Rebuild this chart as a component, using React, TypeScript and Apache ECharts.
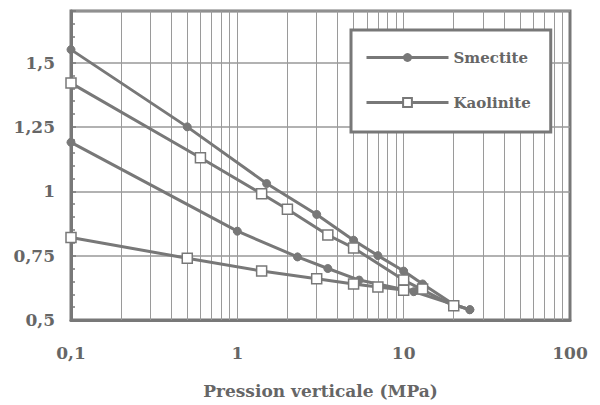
import React, { useEffect, useRef } from "react";
import * as echarts from "echarts";

// Smectite (upper curve)
const smectiteAX = [0.1, 0.5, 1.5, 3, 5, 7, 10, 13, 20, 25];
const smectiteAY = [1.55, 1.25, 1.03, 0.91, 0.81, 0.75, 0.69, 0.64, 0.56, 0.54];
// Kaolinite (upper curve)
const kaoliniteAX = [0.1, 0.6, 1.4, 2, 3.5, 5, 10, 20];
const kaoliniteAY = [1.42, 1.13, 0.99, 0.93, 0.83, 0.78, 0.655, 0.555];
// Smectite (lower curve)
const smectiteBX = [0.1, 1, 2.3, 3.5, 5.4, 11.5, 20, 25];
const smectiteBY = [1.19, 0.845, 0.745, 0.7, 0.655, 0.61, 0.56, 0.54];
// Kaolinite (lower curve)
const kaoliniteBX = [0.1, 0.5, 1.4, 3, 5, 7, 10, 13];
const kaoliniteBY = [0.82, 0.74, 0.69, 0.66, 0.64, 0.628, 0.616, 0.62];

const xGridValues = [
  0.2, 0.3, 0.4, 0.5, 0.6, 0.7, 0.8, 0.9, 1, 2, 3, 4, 5, 6, 7, 8, 9, 10, 20, 30, 40, 50, 60, 70, 80, 90,
];
const legendNames = ["Smectite", "Kaolinite"];
const xTitle = "Pression verticale (MPa)";

const zip = (xs: number[], ys: number[]) => xs.map((x, i) => [x, ys[i]]);

const GRAY = "#787878";
const TEXT = "#666666";
const FONT = "DejaVu Serif";

export default function App() {
  const ref = useRef<HTMLDivElement>(null);
  useEffect(() => {
    if (!ref.current) return;
    const chart = echarts.init(ref.current, undefined, { renderer: "svg" });
    const smectiteStyle = {
      type: "line" as const,
      name: legendNames[0],
      symbol: "circle",
      symbolSize: 8,
      lineStyle: { color: GRAY, width: 3 },
      itemStyle: { color: GRAY, borderColor: GRAY },
      z: 5,
    };
    const kaoliniteStyle = {
      type: "line" as const,
      name: legendNames[1],
      symbol: "rect",
      symbolSize: 10,
      lineStyle: { color: GRAY, width: 3 },
      itemStyle: { color: "#ffffff", borderColor: GRAY, borderWidth: 1.5 },
      z: 6,
    };
    chart.setOption({
      animation: false,
      backgroundColor: "#ffffff",
      textStyle: { fontFamily: FONT },
      grid: {
        left: 71,
        right: 30,
        top: 11,
        bottom: 85,
        show: true,
        borderColor: GRAY,
        borderWidth: 3,
        backgroundColor: "transparent",
      },
      legend: {
        data: legendNames,
        orient: "vertical",
        left: 351,
        top: 30,
        padding: [20, 20, 22, 14],
        itemGap: 30,
        itemWidth: 82,
        itemHeight: 11,
        backgroundColor: "#ffffff",
        borderColor: GRAY,
        borderWidth: 3,
        borderRadius: 0,
        lineStyle: { width: 3, color: GRAY },
        textStyle: { fontFamily: FONT, fontWeight: "bold", fontSize: 15, color: TEXT },
        z: 20,
      },
      xAxis: {
        type: "log",
        logBase: 10,
        min: 0.1,
        max: 100,
        name: xTitle,
        nameLocation: "middle",
        nameGap: 62,
        nameTextStyle: { fontFamily: FONT, fontWeight: "bold", fontSize: 17, color: TEXT },
        axisLine: { show: true, lineStyle: { color: GRAY, width: 3 } },
        axisTick: { show: false },
        splitLine: { show: false },
        axisLabel: {
          margin: 24,
          fontFamily: FONT,
          fontWeight: "bold",
          fontSize: 17,
          color: TEXT,
          formatter: (v: number) => String(v).replace(".", ","),
        },
      },
      yAxis: {
        type: "value",
        min: 0.5,
        max: 1.7,
        interval: 0.25,
        axisLine: { show: true, lineStyle: { color: GRAY, width: 3 } },
        axisTick: { show: true, inside: true, length: 5, lineStyle: { color: GRAY, width: 1.5 } },
        minorTick: { show: true, splitNumber: 5, length: 4, lineStyle: { color: GRAY, width: 1.5 } },
        splitLine: { show: true, lineStyle: { color: "#999999", width: 1.5 } },
        axisLabel: {
          margin: 16,
          showMaxLabel: false,
          fontFamily: FONT,
          fontWeight: "bold",
          fontSize: 17,
          color: TEXT,
          formatter: (v: number) => (v > 1.6 ? "" : String(v).replace(".", ",")),
        },
      },
      series: [
        {
          type: "line",
          name: "grid",
          data: [],
          silent: true,
          markLine: {
            silent: true,
            symbol: "none",
            label: { show: false },
            lineStyle: { color: "#9a9a9a", width: 1, type: "solid" },
            data: xGridValues.map((v) => ({ xAxis: v })),
          },
          z: 1,
        },
        { ...smectiteStyle, data: zip(smectiteAX, smectiteAY) },
        { ...kaoliniteStyle, data: zip(kaoliniteAX, kaoliniteAY) },
        { ...smectiteStyle, data: zip(smectiteBX, smectiteBY) },
        { ...kaoliniteStyle, data: zip(kaoliniteBX, kaoliniteBY) },
      ],
    });
    return () => chart.dispose();
  }, []);
  return <div ref={ref} style={{ width: 600, height: 405, position: "absolute", left: 0, top: 0 }} />;
}
